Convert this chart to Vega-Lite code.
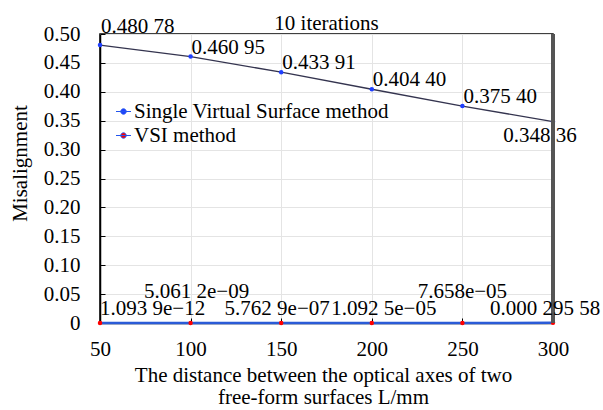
{
  "$schema": "https://vega.github.io/schema/vega-lite/v6.json",
  "autosize": {"type": "none"},
  "padding": {"left": 100, "top": 34, "right": 50, "bottom": 87},
  "width": 453,
  "height": 289,
  "background": "white",
  "view": {"stroke": "black", "strokeWidth": 1.5},
  "config": {
    "font": "Liberation Serif",
    "text": {"font": "Liberation Serif", "fontSize": 21, "color": "black"}
  },
  "title": {"text": "10 iterations", "font": "Liberation Serif", "fontSize": 21, "fontWeight": "normal", "color": "black", "anchor": "middle", "baseline": "alphabetic", "offset": 7, "dy": 42},
  "datasets": {
    "s": [
      {"x": 50, "series": "Single Virtual Surface method", "value": 0.48078, "label": "0.480 78"},
      {"x": 100, "series": "Single Virtual Surface method", "value": 0.46095, "label": "0.460 95"},
      {"x": 150, "series": "Single Virtual Surface method", "value": 0.43391, "label": "0.433 91"},
      {"x": 200, "series": "Single Virtual Surface method", "value": 0.4044, "label": "0.404 40"},
      {"x": 250, "series": "Single Virtual Surface method", "value": 0.3754, "label": "0.375 40"},
      {"x": 300, "series": "Single Virtual Surface method", "value": 0.34836, "label": "0.348 36"},
      {"x": 50, "series": "VSI method", "value": 1.0939e-12, "label": "1.093 9e−12"},
      {"x": 100, "series": "VSI method", "value": 5.0612e-09, "label": "5.061 2e−09"},
      {"x": 150, "series": "VSI method", "value": 5.7629e-07, "label": "5.762 9e−07"},
      {"x": 200, "series": "VSI method", "value": 1.0925e-05, "label": "1.092 5e−05"},
      {"x": 250, "series": "VSI method", "value": 7.658e-05, "label": "7.658e−05"},
      {"x": 300, "series": "VSI method", "value": 0.00029558, "label": "0.000 295 58"}
    ]
  },
  "data": {"name": "s"},
  "encoding": {
    "x": {
      "field": "x", "type": "quantitative",
      "scale": {"domain": [50, 300], "nice": false, "zero": false},
      "axis": {
        "values": [50, 100, 150, 200, 250, 300],
        "title": ["The distance between the optical axes of two", "free-form surfaces L/mm"],
        "titleFont": "Liberation Serif", "titleFontSize": 21, "titleFontWeight": "normal", "titleColor": "black",
        "titleLineHeight": 22, "titleBaseline": "top", "titleX": 223, "titleY": 41,
        "labelFont": "Liberation Serif", "labelFontSize": 21, "labelColor": "black", "labelPadding": 20,
        "labelFlush": false,
        "tickSize": -5, "tickColor": "black", "domainColor": "black", "domainWidth": 1.5,
        "grid": true, "gridColor": "#e4e4e4", "gridWidth": 1
      }
    },
    "y": {
      "field": "value", "type": "quantitative",
      "scale": {"domain": [0, 0.5], "nice": false},
      "axis": {
        "values": [0, 0.05, 0.1, 0.15, 0.2, 0.25, 0.3, 0.35, 0.4, 0.45, 0.5],
        "labelExpr": "datum.value == 0 ? '0' : format(datum.value, '.2f')",
        "title": "Misalignment",
        "titleFont": "Liberation Serif", "titleFontSize": 21, "titleFontWeight": "normal", "titleColor": "black",
        "titleX": -70, "titleY": 129,
        "labelFont": "Liberation Serif", "labelFontSize": 21, "labelColor": "black", "labelPadding": 25,
        "labelFlush": false,
        "tickSize": -5, "tickColor": "black", "domainColor": "black", "domainWidth": 1.5,
        "grid": true, "gridColor": "#e4e4e4", "gridWidth": 1
      }
    }
  },
  "layer": [
    {
      "transform": [{"filter": "datum.series == 'VSI method'"}],
      "mark": {"type": "line", "color": "#2a5bd7", "strokeWidth": 2.5}
    },
    {
      "transform": [{"filter": "datum.series == 'Single Virtual Surface method'"}],
      "mark": {"type": "line", "color": "#34344f", "strokeWidth": 1.3}
    },
    {
      "mark": {"type": "point", "filled": true, "size": 20, "opacity": 1},
      "encoding": {
        "fill": {
          "field": "series", "type": "nominal",
          "scale": {"domain": ["Single Virtual Surface method", "VSI method"], "range": ["#1f3fff", "#ff0000"]},
          "legend": {
            "orient": "none", "legendX": 13, "legendY": 67, "title": null,
            "symbolType": "M-1,0L1,0M-0.36,0a0.36,0.36 0 1,0 0.72,0a0.36,0.36 0 1,0 -0.72,0",
            "symbolSize": 225, "symbolStrokeColor": "#2255ee", "symbolStrokeWidth": 1,
            "labelFont": "Liberation Serif", "labelFontSize": 21, "labelColor": "black", "labelLimit": 0,
            "rowPadding": 2, "labelOffset": 0, "padding": 0
          }
        }
      }
    },
    {
      "mark": {"type": "rule", "color": "#555555", "strokeWidth": 3.5},
      "encoding": {"x": {"datum": 300}, "y": {"datum": 0}, "y2": {"datum": 0.5}}
    },
    {
      "transform": [{"filter": "datum.series == 'Single Virtual Surface method' && datum.x == 50"}],
      "mark": {"type": "text", "align": "left", "baseline": "alphabetic", "dx": 1, "dy": -12},
      "encoding": {"text": {"field": "label"}}
    },
    {
      "transform": [{"filter": "datum.series == 'Single Virtual Surface method' && datum.x > 50 && datum.x < 300"}],
      "mark": {"type": "text", "align": "left", "baseline": "alphabetic", "dx": 1, "dy": -3},
      "encoding": {"text": {"field": "label"}}
    },
    {
      "transform": [{"filter": "datum.series == 'Single Virtual Surface method' && datum.x == 300"}],
      "mark": {"type": "text", "align": "center", "baseline": "alphabetic", "dx": -13, "dy": 20},
      "encoding": {"text": {"field": "label"}}
    },
    {
      "transform": [{"filter": "datum.series == 'VSI method' && datum.x == 50"}],
      "mark": {"type": "text", "align": "left", "baseline": "alphabetic", "dx": 0, "dy": -8},
      "encoding": {"text": {"field": "label"}}
    },
    {
      "transform": [{"filter": "datum.series == 'VSI method' && datum.x == 100"}],
      "mark": {"type": "text", "align": "center", "baseline": "alphabetic", "dx": 6, "dy": -25},
      "encoding": {"text": {"field": "label"}}
    },
    {
      "transform": [{"filter": "datum.series == 'VSI method' && datum.x == 150"}],
      "mark": {"type": "text", "align": "center", "baseline": "alphabetic", "dx": -4, "dy": -8},
      "encoding": {"text": {"field": "label"}}
    },
    {
      "transform": [{"filter": "datum.series == 'VSI method' && datum.x == 200"}],
      "mark": {"type": "text", "align": "center", "baseline": "alphabetic", "dx": 12, "dy": -8},
      "encoding": {"text": {"field": "label"}}
    },
    {
      "transform": [{"filter": "datum.series == 'VSI method' && datum.x == 250"}],
      "mark": {"type": "text", "align": "center", "baseline": "alphabetic", "dx": 0, "dy": -25},
      "encoding": {"text": {"field": "label"}}
    },
    {
      "transform": [{"filter": "datum.series == 'VSI method' && datum.x == 300"}],
      "mark": {"type": "text", "align": "center", "baseline": "alphabetic", "dx": -8, "dy": -8},
      "encoding": {"text": {"field": "label"}}
    }
  ]
}
